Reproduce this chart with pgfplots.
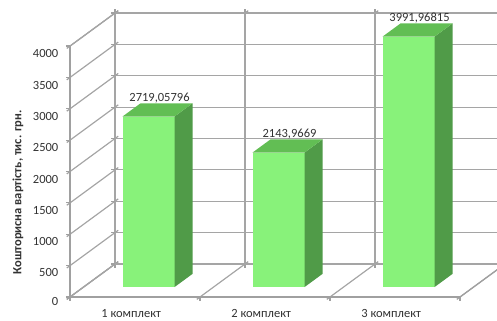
\documentclass[border=0pt]{standalone}
\usepackage{pgfplots}
\pgfplotsset{compat=1.18}
\usepackage{fontspec}
\setmainfont{Carlito}
\definecolor{gridc}{RGB}{165,165,165}
\definecolor{axc}{RGB}{160,160,160}
\definecolor{frontc}{RGB}{136,242,122}
\definecolor{topc}{RGB}{98,190,84}
\definecolor{sidec}{RGB}{80,155,72}
\definecolor{txt}{RGB}{50,50,50}
\newcommand\tdbar[3]{%
  \addplot3[fill=frontc,draw=none] coordinates {(#1,0.3,0) (#2,0.3,0) (#2,0.3,#3) (#1,0.3,#3)};
  \addplot3[fill=sidec,draw=none] coordinates {(#2,0.3,0) (#2,0.7,0) (#2,0.7,#3) (#2,0.3,#3)};
  \addplot3[fill=topc,draw=none] coordinates {(#1,0.3,#3) (#2,0.3,#3) (#2,0.7,#3) (#1,0.7,#3)};
}
\begin{document}
\begin{tikzpicture}
\begin{axis}[
  x={(130bp,0bp)}, y={(45bp,33bp)}, z={(0bp,0.06275bp)},
  xmin=0,xmax=3,ymin=0,ymax=1,zmin=0,zmax=4000,
  xtick={0,1,2,3}, xticklabels={,,,},
  extra x ticks={0.5,1.5,2.5},
  extra x tick labels={1 комплект,2 комплект,3 комплект},
  extra x tick style={grid=none, major tick length=0pt, xticklabel style={yshift=-9bp}},
  ytick=\empty,
  ztick={0,500,...,4000},
  grid=major,
  major grid style={gridc, line width=1.2bp},
  axis line style={axc, line width=1.2bp},
  tick style={axc, line width=1.2bp},
  tick align=outside,
  major tick length=4bp,
  /pgf/number format/assume math mode=true,
  /pgf/number format/1000 sep={},
  ticklabel style={font=\fontsize{12.5bp}{15bp}\selectfont, text=txt},
  zticklabel style={xshift=-5bp},
  zlabel={Кошторисна вартість, тис. грн.},
  every axis z label/.style={at={(rel axis cs:0,0,0.5)}, anchor=center, xshift=-52bp, yshift=-21bp, rotate=90, font=\bfseries\fontsize{12.5bp}{15bp}\selectfont, text=txt},
  clip=false,
]
\pgfplotsinvokeforeach{0,500,1000,1500,2000,2500,3000,3500}{
  \draw[gridc, line width=1.2bp] (axis cs:0,1,#1) -- (axis cs:3,1,#1);
}
\tdbar{0.3}{0.7}{2719.05796}
\tdbar{1.3}{1.7}{2143.9669}
\tdbar{2.3}{2.7}{3991.96815}
\addplot3[draw=none, mark=none, nodes near coords, point meta=explicit symbolic,
  nodes near coords style={anchor=center, xshift=2bp, yshift=12bp, font=\fontsize{12.5bp}{15bp}\selectfont, text=txt}]
  coordinates {(0.5,0.5,2719.05796) [2719,05796] (1.5,0.5,2143.9669) [2143,9669] (2.5,0.5,3991.96815) [3991,96815]};
\coordinate (O) at (axis cs:0,0,0);
\end{axis}
\pgfresetboundingbox
\path[use as bounding box] (O) ++(-70bp,-24bp) rectangle ++(497bp,321bp);
\end{tikzpicture}
\end{document}
